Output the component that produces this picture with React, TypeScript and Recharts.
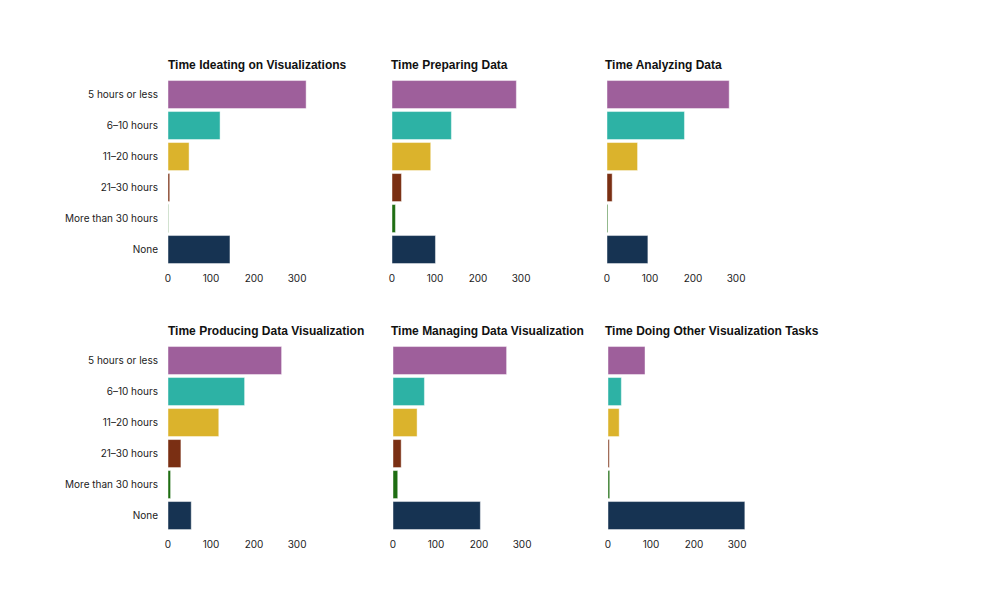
import { BarChart, Bar, Cell, XAxis, YAxis } from "recharts"

const CATEGORIES = [
  "5 hours or less",
  "6–10 hours",
  "11–20 hours",
  "21–30 hours",
  "More than 30 hours",
  "None",
]

const COLORS = ["#9e5f9b", "#2db2a5", "#dbb32c", "#7a2f13", "#1e6d12", "#163352"]

const IDEATING = [321, 121, 49, 4, 1, 144]
const PREPARING = [289, 138, 90, 22, 8, 101]
const ANALYZING = [284, 180, 71, 12, 2, 95]
const PRODUCING = [264, 178, 118, 30, 6, 54]
const MANAGING = [264, 73, 56, 19, 11, 203]
const OTHER = [86, 31, 26, 3, 4, 318]

const X_TICKS = [0, 100, 200, 300]

const PLOT_W = 142
const PLOT_H = 186
const LABEL_W = 160
const PAD = 12
const AXIS_H = 30

const TICK_STYLE = { fontFamily: "Inter, sans-serif", fontSize: 10, fill: "#222" }

type PanelProps = {
  title: string
  values: number[]
  x0: number
  y0: number
  titleX: number
  showLabels?: boolean
}

function Panel({ title, values, x0, y0, titleX, showLabels }: PanelProps) {
  const data = CATEGORIES.map((c, i) => ({ category: c, value: values[i] }))
  const yw = showLabels ? LABEL_W : 0
  const left = showLabels ? 0 : PAD
  return (
    <>
      <div
        style={{
          position: "absolute",
          left: titleX,
          top: y0 - 21,
          fontFamily: "'Liberation Sans', Arial, sans-serif",
          fontWeight: 700,
          fontSize: 12,
          color: "#111",
          whiteSpace: "nowrap",
        }}
      >
        {title}
      </div>
      <div style={{ position: "absolute", left: x0 - yw - left, top: y0 }}>
        <BarChart
          width={yw + left + PLOT_W + PAD}
          height={PLOT_H + AXIS_H}
          data={data}
          layout="vertical"
          margin={{ top: 0, right: PAD, bottom: 0, left }}
          barCategoryGap="5%"
        >
          <XAxis
            type="number"
            domain={[0, 330]}
            ticks={X_TICKS}
            axisLine={false}
            tickLine={false}
            tickSize={8}
            tickMargin={2}
            height={AXIS_H}
            tick={TICK_STYLE}
            interval={0}
          />
          <YAxis
            type="category"
            dataKey="category"
            hide={!showLabels}
            width={yw}
            axisLine={false}
            tickLine={false}
            tickSize={8}
            tickMargin={2}
            tick={TICK_STYLE}
            interval={0}
          />
          <Bar dataKey="value" isAnimationActive={false} stroke="#ffffff" strokeOpacity={0.45} strokeWidth={1}>
            {data.map((d, i) => (
              <Cell key={d.category} fill={COLORS[i]} />
            ))}
          </Bar>
        </BarChart>
      </div>
    </>
  )
}

export default function App() {
  return (
    <div style={{ position: "absolute", left: 0, top: 0, width: 994, height: 593, background: "#fff" }}>
      <Panel title="Time Ideating on Visualizations" values={IDEATING} x0={168} y0={78.5} titleX={168} showLabels />
      <Panel title="Time Preparing Data" values={PREPARING} x0={392} y0={78.5} titleX={391} />
      <Panel title="Time Analyzing Data" values={ANALYZING} x0={607} y0={78.5} titleX={605} />
      <Panel title="Time Producing Data Visualization" values={PRODUCING} x0={168} y0={344.5} titleX={168} showLabels />
      <Panel title="Time Managing Data Visualization" values={MANAGING} x0={393} y0={344.5} titleX={391} />
      <Panel title="Time Doing Other Visualization Tasks" values={OTHER} x0={608} y0={344.5} titleX={605} />
    </div>
  )
}
